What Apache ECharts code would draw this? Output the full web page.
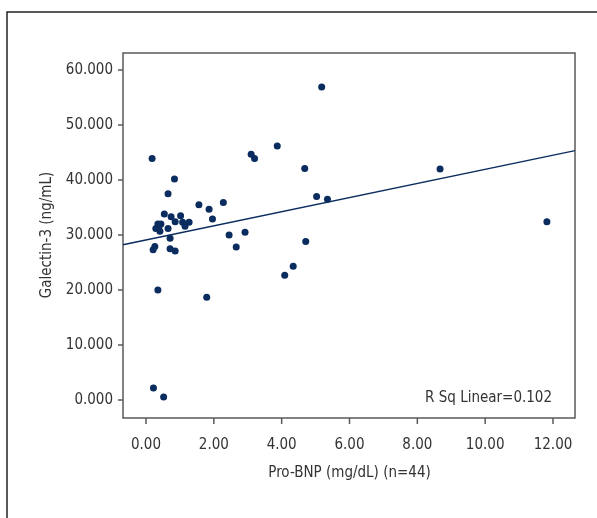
<!doctype html>
<html>
<head>
    <meta charset="utf-8">
    <title>galectin-pro-bnp</title>
    <style>
        html,body{margin:0;padding:0;background:#fff;}
        #ID-Chart{width:597px;height:518px;}
    </style>
</head>
<body>
    <div id="ID-Chart"></div>
    <script src="https://cdn.jsdelivr.net/npm/echarts@6/dist/echarts.min.js"></script>
    <script>
        //数据 Pro-BNP (x) / Galectin-3 (y)
        var proBnp=[5.18,0.18,3.87,3.10,3.20,4.68,0.84,0.65,5.03,5.35,
                    1.56,2.28,1.86,1.96,0.54,0.74,1.02,0.86,1.08,1.15,
                    1.27,0.35,0.44,0.29,0.41,0.38,0.65,2.45,2.92,0.71,
                    2.66,4.71,0.26,0.21,0.71,0.86,4.34,4.09,0.35,1.79,
                    0.22,0.52,8.67,11.82];
        var galectin=[56.9,43.9,46.2,44.7,43.9,42.1,40.2,37.5,37.0,36.5,
                      35.5,35.9,34.7,32.9,33.8,33.3,33.5,32.4,32.3,31.6,
                      32.3,32.0,32.0,31.2,30.7,31.5,31.2,30.0,30.5,29.4,
                      27.8,28.8,27.9,27.3,27.5,27.1,24.3,22.7,20.0,18.7,
                      2.2,0.55,42.0,32.4];
        //刻度
        var xTicks=[0,2,4,6,8,10,12];
        var yTicks=[0,10,20,30,40,50,60];
        //拟合线
        var fitIntercept=29.1;
        var fitSlope=1.284;
        var rSqText='R Sq Linear=0.102';

        var navy='#0b2c5e';
        var frameGray='#5a5a5a';
        var font='"Liberation Sans Narrow","DejaVu Sans Condensed","Roboto",sans-serif';

        //布局: 刻度区 (grid 0) 与图框 (grid 1)
        var tickBox={left:146,top:70,width:407,height:330};
        var frameBox={left:123,top:53,width:452,height:365};
        var frameBottom=frameBox.top+frameBox.height;
        var xFirst=xTicks[0],xLast=xTicks[xTicks.length-1];
        var yFirst=yTicks[0],yLast=yTicks[yTicks.length-1];
        var xPer=(xLast-xFirst)/tickBox.width, yPer=(yLast-yFirst)/tickBox.height;
        var frameXMin=xFirst-(tickBox.left-frameBox.left)*xPer;
        var frameXMax=frameXMin+frameBox.width*xPer;
        var frameYMax=yLast+(tickBox.top-frameBox.top)*yPer;
        var frameYMin=frameYMax-frameBox.height*yPer;

        var points=[];
        for(var i=0;i<proBnp.length;i++){
            points.push([proBnp[i],galectin[i]]);
        }
        var fitLine=[[frameXMin,fitIntercept+fitSlope*frameXMin],[frameXMax,fitIntercept+fitSlope*frameXMax]];

        var labelStyle={color:'#333',fontSize:15,fontFamily:font};

        var chart=echarts.init(document.getElementById('ID-Chart'));
        chart.setOption({
            animation:false,
            grid:[
                {left:tickBox.left,top:tickBox.top,width:tickBox.width,height:tickBox.height},
                {left:frameBox.left,top:frameBox.top,width:frameBox.width,height:frameBox.height,
                 show:true,borderColor:frameGray,borderWidth:1.5}
            ],
            xAxis:[
                {
                    type:'value',gridIndex:0,
                    min:xFirst,max:xLast,interval:xTicks[1]-xTicks[0],
                    offset:frameBottom-(tickBox.top+tickBox.height),
                    name:'Pro-BNP (mg/dL) (n=44)',
                    nameLocation:'middle',nameGap:48,
                    nameTextStyle:labelStyle,
                    axisLine:{show:false,onZero:false},
                    splitLine:{show:false},
                    axisTick:{show:false},
                    axisLabel:{
                        margin:20,showMinLabel:true,showMaxLabel:true,
                        color:labelStyle.color,fontSize:15,fontFamily:font,
                        formatter:function(v){return v.toFixed(2);}
                    }
                },
                {type:'value',gridIndex:1,min:frameXMin,max:frameXMax,show:false}
            ],
            yAxis:[
                {
                    type:'value',gridIndex:0,
                    min:yFirst,max:yLast,interval:yTicks[1]-yTicks[0],
                    offset:tickBox.left-frameBox.left,
                    name:'Galectin-3 (ng/mL)',
                    nameLocation:'middle',nameGap:68,
                    nameTextStyle:labelStyle,
                    axisLine:{show:false,onZero:false},
                    splitLine:{show:false},
                    axisTick:{show:false},
                    axisLabel:{
                        margin:10,showMinLabel:true,showMaxLabel:true,
                        color:labelStyle.color,fontSize:15,fontFamily:font,
                        formatter:function(v){return v.toFixed(3);}
                    }
                },
                {type:'value',gridIndex:1,min:frameYMin,max:frameYMax,show:false}
            ],
            series:[
                {
                    type:'line',data:fitLine,
                    xAxisIndex:1,yAxisIndex:1,
                    symbol:'none',
                    lineStyle:{color:navy,width:1.5},
                    z:2
                },
                {
                    type:'scatter',data:points,
                    xAxisIndex:0,yAxisIndex:0,
                    symbolSize:7,
                    itemStyle:{color:navy,opacity:1},
                    z:3
                }
            ]
        });

        //刻度线: 用坐标轴换算像素位置
        var graphics=[
            {//外框
                type:'polyline',silent:true,
                shape:{points:[[7,520],[7,12],[600,12]]},
                style:{stroke:'#222',lineWidth:1.5,fill:null}
            },
            {
                type:'text',right:45,top:391,
                style:{text:rSqText,fill:'#333',fontSize:15,fontFamily:font}
            }
        ];
        xTicks.forEach(function(v){
            var px=chart.convertToPixel({xAxisIndex:0},v);
            graphics.push({type:'line',silent:true,z:10,
                shape:{x1:px,y1:frameBottom,x2:px,y2:frameBottom+6},
                style:{stroke:frameGray,lineWidth:1.5}});
        });
        yTicks.forEach(function(v){
            var py=chart.convertToPixel({yAxisIndex:0},v);
            graphics.push({type:'line',silent:true,z:10,
                shape:{x1:frameBox.left-5,y1:py,x2:frameBox.left,y2:py},
                style:{stroke:frameGray,lineWidth:1.5}});
        });
        chart.setOption({graphic:graphics});
    </script>
</body>
</html>
